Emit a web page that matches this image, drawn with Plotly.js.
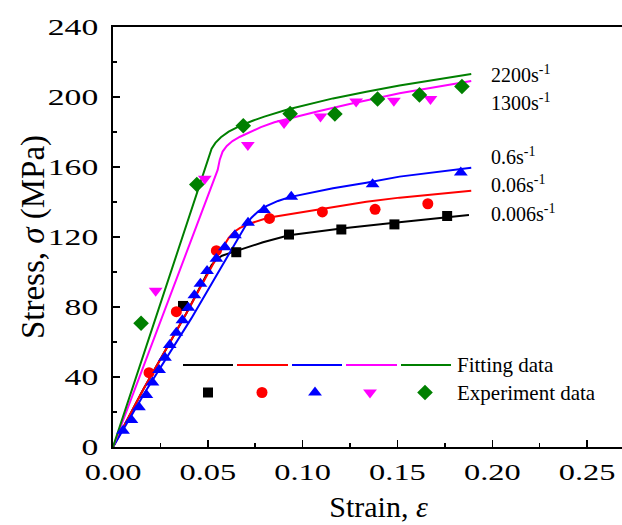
<!DOCTYPE html>
<html>
<head>
<meta charset="utf-8">
<script src="https://cdn.plot.ly/plotly-3.0.1.min.js"></script>
<style>
html,body{margin:0;padding:0;overflow:hidden;background:#fff;}
#chart{width:660px;height:525px;}
</style>
</head>
<body>
<div id="chart"></div>
<script>
// ---- Fitting curves (strain, stress in MPa) ----
const fitStrain0006 = [0, 0.0158, 0.0387, 0.0520, 0.0545, 0.0575, 0.0615, 0.0660, 0.0791, 0.0928, 0.1204, 0.1484, 0.1877];
const fitStress0006 = [0, 32.6, 76.4, 104.0, 107.2, 109.3, 110.8, 112.3, 117.0, 121.0, 124.8, 128.2, 132.6];

const fitStrain006 = [0, 0.0158, 0.0387, 0.0545, 0.0610, 0.0640, 0.0670, 0.0720, 0.0817, 0.0984, 0.1160, 0.1336, 0.1511, 0.1889];
const fitStress006 = [0, 32.6, 76.4, 108.0, 119.5, 123.0, 125.2, 127.6, 131.0, 134.0, 137.3, 140.2, 142.5, 146.5];

const fitStrain06 = [0, 0.0176, 0.0413, 0.0600, 0.0680, 0.0705, 0.0730, 0.0765, 0.0809, 0.0870, 0.0931, 0.1160, 0.1336, 0.1511, 0.1889];
const fitStress06 = [0, 32.6, 73.5, 108.5, 123.0, 127.6, 131.0, 134.6, 137.6, 140.6, 142.8, 147.8, 151.0, 154.5, 159.6];

const fitStrain1300 = [0, 0.0552, 0.0563, 0.0578, 0.0600, 0.0630, 0.0670, 0.0710, 0.0780, 0.0851, 0.0960, 0.1072, 0.1248, 0.1424, 0.1511, 0.1889];
const fitStress1300 = [0, 158.3, 164.2, 168.8, 172.0, 174.8, 177.3, 179.4, 182.8, 185.6, 188.6, 191.6, 196.0, 200.0, 202.2, 209.1];

const fitStrain2200 = [0, 0.0482, 0.0505, 0.0520, 0.0540, 0.0569, 0.0610, 0.0675, 0.0740, 0.0798, 0.0920, 0.1040, 0.1160, 0.1336, 0.1511, 0.1889];
const fitStress2200 = [0, 158.3, 166.0, 170.4, 173.8, 177.0, 180.2, 183.8, 186.6, 188.8, 192.9, 196.2, 199.2, 203.0, 206.6, 213.1];

// ---- Experiment data ----
const expStrain0006 = [0.0369, 0.0650, 0.0928, 0.1204, 0.1484, 0.1762];
const expStress0006 = [80.6, 111.3, 121.4, 124.3, 127.2, 132.0];

const expStrain006 = [0.0190, 0.0334, 0.0545, 0.0825, 0.1104, 0.1382, 0.1660];
const expStress006 = [42.5, 77.3, 112.2, 130.6, 134.3, 135.8, 139.0];

const expStrain06 = [0.0053, 0.0097, 0.0137, 0.0176, 0.0208, 0.0243, 0.0274, 0.0299, 0.0334, 0.0366, 0.0397,
                     0.0429, 0.0461, 0.0496, 0.0545, 0.0590, 0.0643, 0.0712, 0.0796, 0.0940, 0.1369, 0.1834];
const expStress06 = [9.3, 15.4, 22.7, 29.7, 36.8, 44.0, 51.0, 58.3, 65.3, 72.4, 79.6,
                     86.7, 93.3, 100.6, 107.6, 114.1, 121.0, 128.2, 135.4, 143.0, 150.1, 156.8];

const expStrain1300 = [0.0225, 0.0484, 0.0711, 0.0902, 0.1094, 0.1282, 0.1481, 0.1674];
const expStress1300 = [89.3, 153.3, 172.6, 185.1, 188.8, 197.5, 197.8, 198.8];

const expStrain2200 = [0.0148, 0.0442, 0.0687, 0.0934, 0.1170, 0.1395, 0.1616, 0.1840];
const expStress2200 = [70.7, 150.0, 183.6, 190.5, 190.3, 198.9, 201.2, 206.0];

const rateLabels = ['0.006s<sup>-1</sup>', '0.06s<sup>-1</sup>', '0.6s<sup>-1</sup>', '1300s<sup>-1</sup>', '2200s<sup>-1</sup>'];
const xTickVals = [0, 0.05, 0.10, 0.15, 0.20, 0.25];
const yTickVals = [0, 40, 80, 120, 160, 200, 240];
const legendTexts = ['Fitting data', 'Experiment data'];

const colors = ['#000000', '#ff0000', '#0000ff', '#ff00ff', '#008000'];
const symbols = ['square', 'circle', 'triangle-up', 'triangle-down', 'diamond'];
const msizes = [10, 11, 12, 12, 12];

const fits = [[fitStrain0006, fitStress0006], [fitStrain006, fitStress006], [fitStrain06, fitStress06],
              [fitStrain1300, fitStress1300], [fitStrain2200, fitStress2200]];
const exps = [[expStrain0006, expStress0006], [expStrain006, expStress006], [expStrain06, expStress06],
              [expStrain1300, expStress1300], [expStrain2200, expStress2200]];

const FONT = '"Liberation Serif", "Times New Roman", Times, serif';
const traces = [];
fits.forEach((f, i) => traces.push({
  x: f[0], y: f[1], mode: 'lines', type: 'scatter', showlegend: false,
  line: {color: colors[i], width: 2}, hoverinfo: 'skip'
}));
exps.forEach((e, i) => traces.push({
  x: e[0], y: e[1], mode: 'markers', type: 'scatter', showlegend: false,
  marker: {color: colors[i], symbol: symbols[i], size: msizes[i]}, hoverinfo: 'skip'
}));

// Legend samples drawn on an overlay pixel-like axis pair
const legLineX = [[183, 233], [237, 288], [292, 342], [346, 397], [401, 451]];
const legMarkX = [208, 262, 315, 370, 425];
legLineX.forEach((s, i) => traces.push({
  x: s, y: [365, 365], xaxis: 'x2', yaxis: 'y2', mode: 'lines', showlegend: false,
  line: {color: colors[i], width: 2}, hoverinfo: 'skip'
}));
legMarkX.forEach((mx, i) => traces.push({
  x: [mx], y: [392.5], xaxis: 'x2', yaxis: 'y2', mode: 'markers', showlegend: false,
  marker: {color: colors[i], symbol: symbols[i], size: msizes[i]}, hoverinfo: 'skip'
}));

const labelPos = [[489, 213], [489, 184], [489, 156], [489, 102], [489, 74]];
const annotations = rateLabels.map((t, i) => ({
  text: t, xref: 'x2', yref: 'y2', x: labelPos[i][0], y: labelPos[i][1],
  xanchor: 'left', yanchor: 'middle', showarrow: false,
  font: {family: FONT, size: 20, color: '#000'}
}));
annotations.push({text: legendTexts[0], xref: 'x2', yref: 'y2', x: 455, y: 365, xanchor: 'left', yanchor: 'middle',
  showarrow: false, font: {family: FONT, size: 21, color: '#000'}});
annotations.push({text: legendTexts[1], xref: 'x2', yref: 'y2', x: 455, y: 393, xanchor: 'left', yanchor: 'middle',
  showarrow: false, font: {family: FONT, size: 21, color: '#000'}});

const layout = {
  width: 660, height: 525,
  margin: {l: 113, r: 16, t: 27, b: 78},
  paper_bgcolor: '#fff', plot_bgcolor: '#fff',
  font: {family: FONT, color: '#000'},
  xaxis: {
    range: [0, 0.28], tickvals: xTickVals, tickformat: '.2f',
    ticks: 'inside', ticklen: 7, tickwidth: 1.5, tickcolor: '#000',
    minor: {ticks: 'inside', dtick: 0.025, tick0: 0, ticklen: 4, tickwidth: 1.5, tickcolor: '#000'},
    showline: true, linewidth: 2, linecolor: '#000', mirror: true,
    showgrid: false, zeroline: false, ticklabelstandoff: 2,
    tickfont: {family: FONT, size: 24, color: '#000'},
    title: {text: 'Strain, <i>ε</i>', font: {family: FONT, size: 30, color: '#000'}, standoff: 12}
  },
  yaxis: {
    range: [0, 240], tickvals: yTickVals,
    ticks: 'inside', ticklen: 7, tickwidth: 1.5, tickcolor: '#000',
    minor: {ticks: 'inside', dtick: 20, tick0: 0, ticklen: 4, tickwidth: 1.5, tickcolor: '#000'},
    showline: true, linewidth: 2, linecolor: '#000', mirror: true,
    showgrid: false, zeroline: false, ticklabelstandoff: 8,
    tickfont: {family: FONT, size: 24, color: '#000'},
    title: {text: 'Stress, <i>σ</i> (MPa)', font: {family: FONT, size: 33, color: '#000'}, standoff: 8}
  },
  xaxis2: {overlaying: 'x', anchor: 'y2', range: [113, 644], visible: false, fixedrange: true},
  yaxis2: {overlaying: 'y', anchor: 'x2', range: [447, 27], visible: false, fixedrange: true},
  annotations: annotations
};

function widen(selector, factor) {
  document.querySelectorAll(selector).forEach(t => {
    const w = t.getComputedTextLength();
    if (w > 0) {
      t.setAttribute('textLength', (w * factor).toFixed(1));
      t.setAttribute('lengthAdjust', 'spacingAndGlyphs');
    }
  });
}

Plotly.newPlot('chart', traces, layout, {displayModeBar: false, staticPlot: true}).then(() => {
  widen('.xtick text', 1.35);
  widen('.ytick text', 1.4);
});
</script>
</body>
</html>
